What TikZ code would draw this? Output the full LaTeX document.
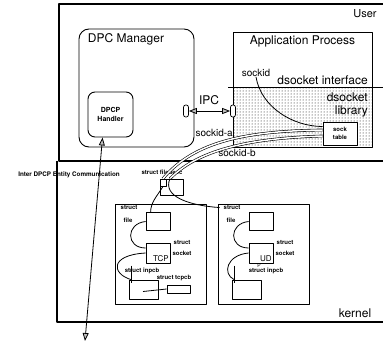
\documentclass[tikz,border=0pt]{standalone}
\usepackage{fontspec}
\setmainfont{TeX Gyre Heros}
\usetikzlibrary{positioning, arrows.meta, patterns}

\begin{document}
\begin{tikzpicture}[x=1pt, y=-1pt, line join=round]
  \tikzstyle{frame} = [line width=1.1pt]
  \tikzstyle{rbox} = [draw, line width=0.9pt, inner sep=0pt]
  \tikzstyle{sbox} = [draw, line width=0.75pt, inner sep=0pt]
  \tikzstyle{port} = [draw, line width=0.7pt, fill=white, rounded corners=2.2pt,
    minimum width=5pt, minimum height=12pt, inner sep=0pt]
  \tikzstyle{big} = [font=\fontsize{12}{14}\selectfont, inner sep=0pt]
  \tikzstyle{mid} = [font=\fontsize{10}{12}\selectfont, inner sep=0pt]
  \tikzstyle{lbl} = [font=\fontsize{6}{7}\selectfont\bfseries, inner sep=0pt]
  \tikzstyle{tag} = [font=\fontsize{7}{9}\selectfont\bfseries, inner sep=0pt, align=center]
  \tikzstyle{link} = [double, double distance=1.5pt, line width=0.6pt]
  \tikzstyle{ptr} = [line width=0.8pt]
  \tikzstyle{ipc} = [line width=0.8pt,
    {Triangle[length=8pt, width=6pt, fill=gray!50]}-{Triangle[length=8pt, width=6pt, fill=gray!50]}]

  \useasboundingbox (0,0) rectangle (383,343);

  % user / kernel frames
  \draw[frame] (383,4) -- (59,4) -- (59,161) -- (383,161);
  \draw[frame] (57,161) -- (57,322) -- (383,322);
  \node[big, font=\fontsize{11}{13}\selectfont] (user) at (365,14) {User};
  \node[big] (kernel) at (355,313) {kernel};

  % DPC manager
  \node[rbox, rounded corners=10pt, minimum width=115, minimum height=118] (dpcmgr) at (136.5,88) {};
  \node[big] (dpctitle) at (126,39) {DPC Manager};
  \node[rbox, tag, rounded corners=7pt, minimum width=45, minimum height=45] (handler) at (110.5,114.5) {DPCP\\Handler};

  % application process
  \fill[pattern=dots, pattern color=black] (233,87) rectangle (372,147);
  \node[rbox, minimum width=139, minimum height=115, anchor=north west] (app) at (233,32) {};
  \node[big] (apptitle) at (302.5,41) {Application Process};
  \draw[line width=0.9pt] (228,87) -- (383,87);
  \node[big, anchor=south east] (iface) at (368,85) {dsocket interface};
  \node[big, anchor=east] (dlib1) at (368,97) {dsocket};
  \node[big, anchor=east] (dlib2) at (368,111) {library};
  \node[sbox, tag, fill=white, font=\fontsize{6}{7.5}\selectfont\bfseries,
    minimum width=34, minimum height=23] (socktab) at (340,133.5) {sock\\table};
  \node[mid] (sockid) at (256,73) {sockid};
  \draw[ptr] (sockid.south) .. controls +(5,30) and +(-30,0) .. ([yshift=7pt]socktab.west);

  % IPC
  \node[port] (mgrport) at (186,111) {};
  \node[port] (appport) at (233,111) {};
  \draw[ipc] (mgrport) -- (appport);
  \node[big] (ipclbl) at (209,100) {IPC};

  % sockets and file descriptors
  \node[mid, anchor=east] (sida) at (233,133) {sockid-a};
  \node[mid] (sidb) at (237,153) {sockid-b};
  \node[sbox, minimum width=23, minimum height=16] (filedesc) at (171.5,187) {};
  \node[sbox, minimum width=6, minimum height=7] (fdcell) at (163,182.5) {};
  \node[lbl] (fdlbl) at (162,172) {struct filedesc};

  \foreach \x/\proto/\nm/\lx/\cw in {115/TCP/tcp/27/36, 218/UD/ud/48/22} {
    \node[sbox, line width=0.9pt, minimum width=91, minimum height=100] (\nm box) at (\x+45.5,254) {};
    \node[sbox, minimum width=24, minimum height=18] (\nm file) at (\x+43,221.5) {};
    \node[sbox, minimum width=24, minimum height=20] (\nm sock) at (\x+43,253) {};
    \node[sbox, minimum width=29, minimum height=19] (\nm inpcb) at (\x+29,289.5) {};
    \node[lbl] (\nm struct) at (\x+14,208) {struct};
    \node[lbl] (\nm filelbl) at (\x+13,220.5) {file};
    \node[lbl] (\nm sstruct) at (\x+67,243) {struct};
    \node[lbl] (\nm socklbl) at (\x+67,253) {socket};
    \node[lbl] (\nm inlbl) at (\x+\lx,271) {struct inpcb};
    \node[mid, font=\fontsize{8}{9}\selectfont, anchor=south east] (\nm proto)
      at ([shift={(-1.5pt,1.5pt)}]\nm sock.south east) {\proto};
    \draw[ptr] (\nm file.west) .. controls +(-20,2) and +(-20,0) .. ([yshift=5pt]\nm sock.west);
    \draw[ptr] (\nm sock.west) .. controls +(-\cw,2) and +(-\cw*0.55,-6) .. ([xshift=2pt]\nm inpcb.north west);
    \draw[ptr] ([xshift=2pt]\nm inpcb.north west) ++(0,-14) -- ++(0,17);
  }
  \node[sbox, minimum width=23, minimum height=8] (tcpcb) at (178.5,289) {};
  \node[lbl] (tcpcblbl) at (174,278) {struct tcpcb};
  \draw[ptr] ([shift={(-1pt,-2pt)}]tcpinpcb.center) -- (tcpcb.west);
  \node[lbl, font=\fontsize{5}{6}\selectfont] (udp) at (259,266) {P};

  % links from the sock table
  \draw[link] ([yshift=3.5pt]socktab.west) .. controls (250,131) and (195,140) .. (fdcell.north);
  \draw[link] ([yshift=-2.5pt]socktab.west) .. controls (255,138) and (200,148) .. ([xshift=-1.5pt]filedesc.north);
  \draw[ptr] (fdcell.south) .. controls +(-6,10) and +(0,-10) .. ([xshift=5pt]tcpfile.north west);
  \draw[ptr] ([xshift=-1.5pt]filedesc.north) .. controls +(-8,18) and +(-30,-2) .. ([shift={(2pt,-4pt)}]udbox.north west);

  % inter DPCP communication
  \coordinate (dpcpend) at (85,341);
  \draw[ipc] (dpcpend) -- ([xshift=-8pt]handler.south);
  \node[tag, font=\fontsize{6.3}{7}\selectfont\bfseries] (interlbl) at (69,175) {Inter DPCP Entity Communication};
\end{tikzpicture}
\end{document}
